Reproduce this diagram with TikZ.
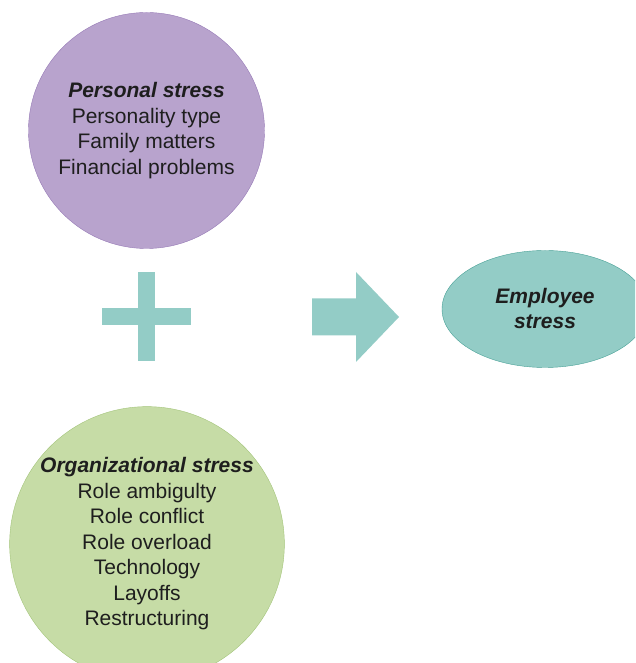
\documentclass[tikz,border=0pt]{standalone}
\usepackage{fontspec}
\setmainfont{Liberation Sans}
\usetikzlibrary{positioning, shapes.geometric}
\definecolor{purplefill}{RGB}{184,163,205}
\definecolor{purpleline}{RGB}{150,122,182}
\definecolor{greenfill}{RGB}{198,220,166}
\definecolor{greenline}{RGB}{163,196,122}
\definecolor{tealfill}{RGB}{147,204,198}
\definecolor{tealline}{RGB}{72,160,150}
\definecolor{inktext}{RGB}{30,30,30}
\tikzset{
  factor/.style={
    circle, thin, inner sep=0pt, text=inktext,
    align=center, font=\fontsize{21}{25.5}\selectfont
  },
  outcome/.style={
    ellipse, draw=tealline, thin, fill=tealfill, text=inktext,
    minimum width=206pt, minimum height=117pt, inner sep=0pt,
    align=center, font=\fontsize{21}{25}\selectfont\bfseries\itshape
  },
  sign/.style={fill=tealfill}
}

\begin{document}
\begin{tikzpicture}[x=1pt, y=1pt]
  \useasboundingbox (0,0) rectangle (635,663);
  \clip (0,0) rectangle (635,663);

  \node[factor, fill=purplefill, draw=purpleline, minimum size=236pt]
    (personal) at (146.5,532.5)
    {{\bfseries\itshape Personal stress}\\Personality type\\Family matters\\Financial problems};
  \node[factor, fill=greenfill, draw=greenline, minimum size=270pt]
    (organizational) at (147,119)
    {{\bfseries\itshape Organizational stress}\\Role ambigulty\\Role conflict\\Role overload\\Technology\\Layoffs\\Restructuring};
  \node[outcome] (employee) at (545,354) {Employee\\stress};

  % plus sign and arrow
  \coordinate (plus) at (146,346);
  \fill[sign] (plus) ++(-44.5,-8.5) rectangle ++(89,17);
  \fill[sign] (plus) ++(-8.5,-44.5) rectangle ++(17,89);
  \coordinate (arrow) at (312,346);
  \fill[sign] (arrow) ++(0,-18.5) -- ++(44,0) -- ++(0,-26.5) -- ++(43,45)
    -- ++(-43,45) -- ++(0,-26.5) -- ++(-44,0) -- cycle;
\end{tikzpicture}
\end{document}
